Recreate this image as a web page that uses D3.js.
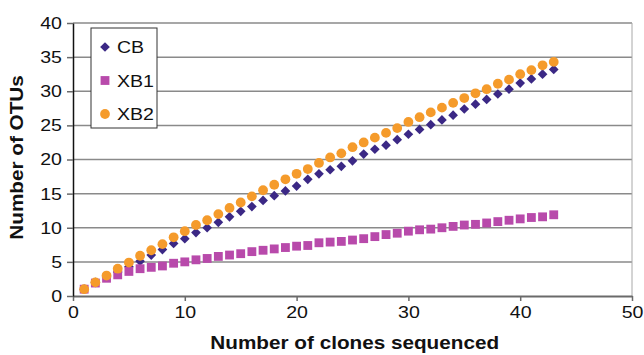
<!DOCTYPE html>
<html>
<head>
<meta charset="utf-8">
<script src="https://cdn.jsdelivr.net/npm/d3@7"></script>
<style>
  body { margin: 0; background: #fff; }
  svg text { font-family: "Liberation Sans", Arial, sans-serif; fill: #111; }
</style>
</head>
<body>
<div id="chart"></div>
<script>
// Number of clones sequenced (x values)
var clones = [1, 2, 3, 4, 5, 6, 7, 8, 9, 10, 11, 12, 13, 14, 15, 16, 17, 18, 19, 20,
  21, 22, 23, 24, 25, 26, 27, 28, 29, 30, 31, 32, 33, 34, 35, 36, 37, 38, 39, 40, 41, 42, 43];

// OTU counts
var cbValues = [1.0, 2.0, 2.8, 3.5, 4.3, 5.1, 6.0, 6.8, 7.7, 8.4, 9.3, 10.0, 10.8, 11.6, 12.4,
  13.1, 14.0, 14.7, 15.4, 16.1, 17.1, 17.9, 18.5, 19.0, 19.8, 20.8, 21.5, 22.1, 22.9, 23.7,
  24.4, 25.1, 25.8, 26.5, 27.4, 28.1, 28.8, 29.6, 30.3, 31.2, 31.8, 32.5, 33.2];
var xb1Values = [1.0, 1.9, 2.6, 3.1, 3.6, 4.0, 4.2, 4.4, 4.8, 5.0, 5.3, 5.5, 5.8, 6.0, 6.2,
  6.5, 6.7, 6.9, 7.1, 7.3, 7.4, 7.8, 7.9, 8.0, 8.2, 8.4, 8.7, 9.0, 9.2, 9.5,
  9.7, 9.8, 10.0, 10.2, 10.4, 10.5, 10.7, 10.9, 11.1, 11.3, 11.5, 11.6, 11.9];
var xb2Values = [1.0, 2.0, 3.0, 4.0, 4.9, 5.9, 6.7, 7.6, 8.6, 9.5, 10.4, 11.1, 12.0, 12.9, 13.7,
  14.6, 15.5, 16.3, 17.1, 17.9, 18.6, 19.5, 20.3, 20.9, 21.8, 22.5, 23.2, 23.9, 24.6, 25.5,
  26.2, 26.9, 27.6, 28.3, 29.0, 29.7, 30.3, 31.1, 31.7, 32.5, 33.1, 33.8, 34.3];

// Series names and tick labels
var seriesNames = ["CB", "XB1", "XB2"];
var xTicks = [0, 10, 20, 30, 40, 50];
var yTicks = [0, 5, 10, 15, 20, 25, 30, 35, 40];

// SVG area
var svgWidth = 644;
var svgHeight = 355;

var margin = { top: 23, right: 12, bottom: 59, left: 73 };
var width = svgWidth - margin.left - margin.right;
var height = svgHeight - margin.top - margin.bottom;

var colors = { CB: "#3b2885", XB1: "#b84aab", XB2: "#f59b2b" };
var stretchK = 1.15;

var svg = d3.select("#chart")
  .append("svg")
  .attr("width", svgWidth)
  .attr("height", svgHeight);

var chartGroup = svg.append("g")
  .attr("transform", `translate(${margin.left}, ${margin.top})`);

// widen the text a bit, the original font runs wider than Arial
function stretch(sel) {
  sel.each(function () {
    var w = this.getComputedTextLength();
    d3.select(this)
      .attr("textLength", w * stretchK)
      .attr("lengthAdjust", "spacingAndGlyphs");
  });
}

// Scales
var xScale = d3.scaleLinear().domain([0, 50]).range([0, width]);
var yScale = d3.scaleLinear().domain([0, 40]).range([height, 0]);

// Horizontal gridlines
chartGroup.append("g")
  .selectAll("line")
  .data(yTicks.filter(d => d > 0))
  .enter()
  .append("line")
  .attr("x1", 0)
  .attr("x2", width)
  .attr("y1", d => yScale(d))
  .attr("y2", d => yScale(d))
  .attr("stroke", "#8a8a8a")
  .attr("stroke-width", 1.5);

// Right border
chartGroup.append("line")
  .attr("x1", width).attr("x2", width)
  .attr("y1", 0).attr("y2", height)
  .attr("stroke", "#a8a8a8")
  .attr("stroke-width", 1);

// Axes
var bottomAxis = d3.axisBottom(xScale).tickValues(xTicks).tickSize(5).tickSizeOuter(0).tickPadding(5);
var leftAxis = d3.axisLeft(yScale).tickValues(yTicks).tickSize(6).tickSizeOuter(0).tickPadding(5);

var xAxisG = chartGroup.append("g")
  .attr("transform", `translate(0, ${height})`)
  .call(bottomAxis);
xAxisG.select(".domain").attr("stroke", "#6a6a6a").attr("stroke-width", 2);
xAxisG.selectAll(".tick line").attr("stroke", "#6a6a6a").attr("stroke-width", 1.5);
xAxisG.selectAll("text")
  .style("font-size", "17px")
  .attr("fill", "#111")
  .call(stretch);

var yAxisG = chartGroup.append("g")
  .call(leftAxis);
yAxisG.select(".domain").attr("stroke", "#111").attr("stroke-width", 1.5);
yAxisG.selectAll(".tick line").attr("stroke", "#6a6a6a").attr("stroke-width", 1.5);
yAxisG.selectAll("text")
  .style("font-size", "17px")
  .attr("fill", "#111")
  .call(stretch);

// Markers
var diamond = d3.symbol().type(d3.symbolDiamond2).size(60);
var square = d3.symbol().type(d3.symbolSquare).size(78);

chartGroup.append("g")
  .selectAll("path")
  .data(clones)
  .enter()
  .append("path")
  .attr("d", diamond)
  .attr("transform", (d, i) => `translate(${xScale(d)}, ${yScale(cbValues[i])})`)
  .attr("fill", colors.CB);

chartGroup.append("g")
  .selectAll("path")
  .data(clones)
  .enter()
  .append("path")
  .attr("d", square)
  .attr("transform", (d, i) => `translate(${xScale(d)}, ${yScale(xb1Values[i])})`)
  .attr("fill", colors.XB1);

chartGroup.append("g")
  .selectAll("circle")
  .data(clones)
  .enter()
  .append("circle")
  .attr("cx", d => xScale(d))
  .attr("cy", (d, i) => yScale(xb2Values[i]))
  .attr("r", 4.9)
  .attr("fill", colors.XB2);

// Legend
var legend = svg.append("g")
  .attr("transform", "translate(91, 28)");

legend.append("rect")
  .attr("width", 66)
  .attr("height", 100)
  .attr("fill", "#fff")
  .attr("stroke", "#333")
  .attr("stroke-width", 1);

var legendItems = legend.selectAll(".item")
  .data(seriesNames)
  .enter()
  .append("g")
  .attr("class", "item")
  .attr("transform", (d, i) => `translate(14, ${19 + i * 33.5})`);

legendItems.append("path")
  .attr("d", d => d === "CB" ? diamond() : d === "XB1" ? square() : d3.symbol().type(d3.symbolCircle).size(75)())
  .attr("fill", d => colors[d]);

legendItems.append("text")
  .attr("x", 12)
  .attr("y", 6)
  .style("font-size", "17px")
  .text(d => d)
  .call(stretch);

// Axis titles
chartGroup.append("text")
  .attr("transform", "rotate(-90)")
  .attr("x", 0 - yScale(20.3))
  .attr("y", -margin.left + 23)
  .attr("text-anchor", "middle")
  .style("font-size", "18px")
  .style("font-weight", "bold")
  .text("Number of OTUs")
  .call(stretch);

chartGroup.append("text")
  .attr("x", xScale(25.2))
  .attr("y", height + 53)
  .attr("text-anchor", "middle")
  .style("font-size", "18px")
  .style("font-weight", "bold")
  .text("Number of clones sequenced")
  .call(stretch);
</script>
</body>
</html>
